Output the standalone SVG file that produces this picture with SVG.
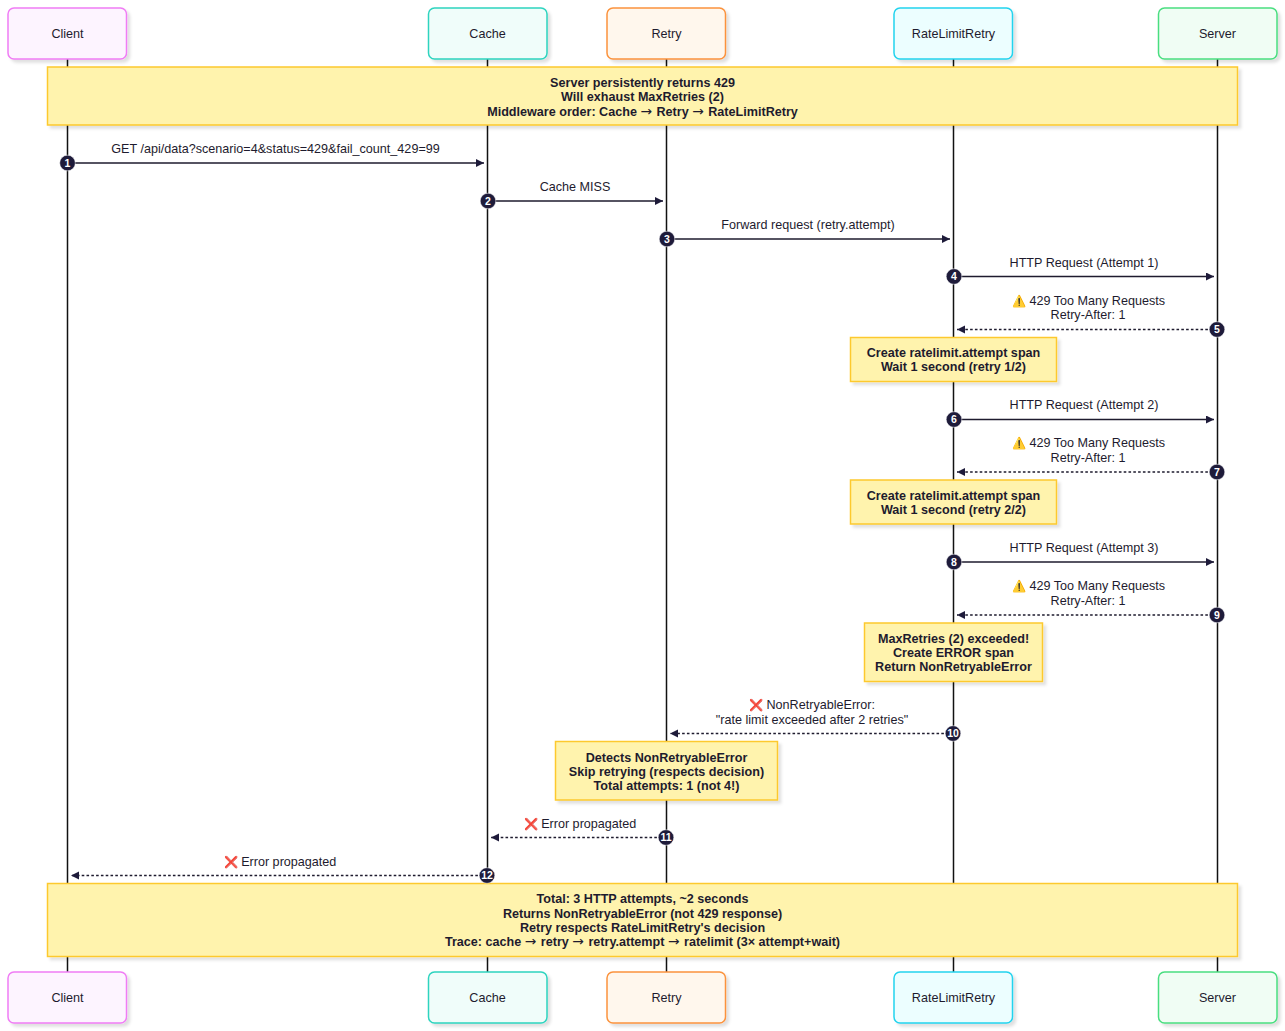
<svg xmlns="http://www.w3.org/2000/svg" width="1285" height="1031" viewBox="0 0 1285 1031">
<style>
text{font-family:"Liberation Sans",Arial,sans-serif;font-size:12.6px;fill:#1e1b2e;text-anchor:middle}
.b{font-weight:700}
.a{stroke-width:1.5;rx:6px}
.life{stroke:#111;stroke-width:1.5}
.msg{stroke:#1e1b2e;stroke-width:1.5;fill:none}
.d{stroke-dasharray:2.6 2.2}
.n{fill:#fff3ad;stroke:#fdc92f;stroke-width:1.5;filter:url(#s)}
.c{fill:#1e1b3a;stroke:#fff;stroke-width:.5}
.cn{font-size:10.5px;font-weight:700;fill:#fff}
.w{font-size:11.5px}
.x{font-size:11.5px}
.ar{font-family:"DejaVu Sans",sans-serif;font-size:13.8px;font-weight:400;letter-spacing:1px}
</style>
<defs>
<filter id="s" x="-5%" y="-10%" width="110%" height="125%"><feDropShadow dx="3" dy="3" stdDeviation="1.5" flood-color="#000" flood-opacity=".12"/></filter>
<marker id="e" markerWidth="9" markerHeight="9" refX="8" refY="4" orient="auto-start-reverse" markerUnits="userSpaceOnUse"><path d="M0 0L8 4L0 8z" fill="#1e1b3a"/></marker>
</defs>
<g id="lifelines">
<line class="life" x1="67.5" y1="59" x2="67.5" y2="972"/>
<line class="life" x1="487.5" y1="59" x2="487.5" y2="972"/>
<line class="life" x1="666.5" y1="59" x2="666.5" y2="972"/>
<line class="life" x1="953.5" y1="59" x2="953.5" y2="972"/>
<line class="life" x1="1217.5" y1="59" x2="1217.5" y2="972"/>
</g>
<g id="actor-client-top"><rect class="a" x="8" y="8" width="118.500" height="51" fill="#fdf4ff" stroke="#f07cf5" filter="url(#s)"/><text x="67.500" y="38">Client</text></g>
<g id="actor-cache-top"><rect class="a" x="428.500" y="8" width="118.500" height="51" fill="#f0fdfa" stroke="#2dd4bf" filter="url(#s)"/><text x="487.500" y="38">Cache</text></g>
<g id="actor-retry-top"><rect class="a" x="607" y="8" width="118.500" height="51" fill="#fff7ed" stroke="#fb923c" filter="url(#s)"/><text x="666.500" y="38">Retry</text></g>
<g id="actor-rlr-top"><rect class="a" x="894" y="8" width="118.500" height="51" fill="#ecfeff" stroke="#22d3ee" filter="url(#s)"/><text x="953.500" y="38">RateLimitRetry</text></g>
<g id="actor-server-top"><rect class="a" x="1158.500" y="8" width="118.500" height="51" fill="#f0fdf4" stroke="#4ade80" filter="url(#s)"/><text x="1217.500" y="38">Server</text></g>
<g id="actor-client-bottom"><rect class="a" x="8" y="972" width="118.500" height="51" fill="#fdf4ff" stroke="#f07cf5" filter="url(#s)"/><text x="67.500" y="1002">Client</text></g>
<g id="actor-cache-bottom"><rect class="a" x="428.500" y="972" width="118.500" height="51" fill="#f0fdfa" stroke="#2dd4bf" filter="url(#s)"/><text x="487.500" y="1002">Cache</text></g>
<g id="actor-retry-bottom"><rect class="a" x="607" y="972" width="118.500" height="51" fill="#fff7ed" stroke="#fb923c" filter="url(#s)"/><text x="666.500" y="1002">Retry</text></g>
<g id="actor-rlr-bottom"><rect class="a" x="894" y="972" width="118.500" height="51" fill="#ecfeff" stroke="#22d3ee" filter="url(#s)"/><text x="953.500" y="1002">RateLimitRetry</text></g>
<g id="actor-server-bottom"><rect class="a" x="1158.500" y="972" width="118.500" height="51" fill="#f0fdf4" stroke="#4ade80" filter="url(#s)"/><text x="1217.500" y="1002">Server</text></g>
<g id="connectors">
<line class="msg" x1="67.500" y1="163" x2="484" y2="163" marker-end="url(#e)"/>
<line class="msg" x1="487.500" y1="201" x2="663" y2="201" marker-end="url(#e)"/>
<line class="msg" x1="666.500" y1="239" x2="950" y2="239" marker-end="url(#e)"/>
<line class="msg" x1="953.500" y1="276.500" x2="1214" y2="276.500" marker-end="url(#e)"/>
<line class="msg d" x1="1217.500" y1="329.500" x2="957" y2="329.500" marker-end="url(#e)"/>
<line class="msg" x1="953.500" y1="419.500" x2="1214" y2="419.500" marker-end="url(#e)"/>
<line class="msg d" x1="1217.500" y1="472" x2="957" y2="472" marker-end="url(#e)"/>
<line class="msg" x1="953.500" y1="562" x2="1214" y2="562" marker-end="url(#e)"/>
<line class="msg d" x1="1217.500" y1="615" x2="957" y2="615" marker-end="url(#e)"/>
<line class="msg d" x1="953.500" y1="733.500" x2="670" y2="733.500" marker-end="url(#e)"/>
<line class="msg d" x1="666.500" y1="837.500" x2="491" y2="837.500" marker-end="url(#e)"/>
<line class="msg d" x1="487.500" y1="875.500" x2="71" y2="875.500" marker-end="url(#e)"/>
</g>
<g id="message-labels">
<text x="275.500" y="153">GET /api/data?scenario=4&amp;status=429&amp;fail_count_429=99</text>
<text x="575" y="191">Cache MISS</text>
<text x="808" y="228.500">Forward request (retry.attempt)</text>
<text x="1084" y="266.500">HTTP Request (Attempt 1)</text>
<text x="1088.500" y="304.500"><tspan class="w">⚠️</tspan> 429 Too Many Requests</text>
<text x="1088" y="319">Retry-After: 1</text>
<text x="1084" y="409">HTTP Request (Attempt 2)</text>
<text x="1088.500" y="447"><tspan class="w">⚠️</tspan> 429 Too Many Requests</text>
<text x="1088" y="462">Retry-After: 1</text>
<text x="1084" y="551.500">HTTP Request (Attempt 3)</text>
<text x="1088.500" y="589.500"><tspan class="w">⚠️</tspan> 429 Too Many Requests</text>
<text x="1088" y="604.500">Retry-After: 1</text>
<text x="812" y="708.500"><tspan class="x">❌</tspan> NonRetryableError:</text>
<text x="812" y="723.500">"rate limit exceeded after 2 retries"</text>
<text x="580" y="827.500"><tspan class="x">❌</tspan> Error propagated</text>
<text x="280" y="865.500"><tspan class="x">❌</tspan> Error propagated</text>
</g>
<g id="note-top"><rect class="n" x="47.500" y="67" width="1190" height="58"/><text class="b" x="642.500" y="87">Server persistently returns 429</text><text class="b" x="642.500" y="101">Will exhaust MaxRetries (2)</text><text class="b" x="642.500" y="115.500">Middleware order: Cache <tspan class="ar">→</tspan> Retry <tspan class="ar">→</tspan> RateLimitRetry</text></g>
<g id="note-wait1"><rect class="n" x="850.500" y="337.500" width="206" height="44"/><text class="b" x="953.500" y="357">Create ratelimit.attempt span</text><text class="b" x="953.500" y="371">Wait 1 second (retry 1/2)</text></g>
<g id="note-wait2"><rect class="n" x="850.500" y="480" width="206" height="44"/><text class="b" x="953.500" y="500">Create ratelimit.attempt span</text><text class="b" x="953.500" y="514">Wait 1 second (retry 2/2)</text></g>
<g id="note-exceeded"><rect class="n" x="864.500" y="623" width="178" height="58.500"/><text class="b" x="953.500" y="642.500">MaxRetries (2) exceeded!</text><text class="b" x="953.500" y="657">Create ERROR span</text><text class="b" x="953.500" y="671">Return NonRetryableError</text></g>
<g id="note-detect"><rect class="n" x="555.500" y="741.500" width="222" height="58.500"/><text class="b" x="666.500" y="762">Detects NonRetryableError</text><text class="b" x="666.500" y="776">Skip retrying (respects decision)</text><text class="b" x="666.500" y="790">Total attempts: 1 (not 4!)</text></g>
<g id="note-bottom"><rect class="n" x="47.500" y="883.500" width="1190" height="73"/><text class="b" x="642.500" y="903">Total: 3 HTTP attempts, ~2 seconds</text><text class="b" x="642.500" y="917.500">Returns NonRetryableError (not 429 response)</text><text class="b" x="642.500" y="932">Retry respects RateLimitRetry's decision</text><text class="b" x="642.500" y="946">Trace: cache <tspan class="ar">→</tspan> retry <tspan class="ar">→</tspan> retry.attempt <tspan class="ar">→</tspan> ratelimit (3× attempt+wait)</text></g>
<g id="sequence-numbers">
<circle class="c" cx="67.500" cy="163" r="7.800"/><text class="cn" x="67.500" y="166.800">1</text>
<circle class="c" cx="488" cy="201" r="7.800"/><text class="cn" x="488" y="204.800">2</text>
<circle class="c" cx="667" cy="239" r="7.800"/><text class="cn" x="667" y="242.800">3</text>
<circle class="c" cx="954" cy="276.500" r="7.800"/><text class="cn" x="954" y="280.300">4</text>
<circle class="c" cx="1217" cy="329.500" r="7.800"/><text class="cn" x="1217" y="333.300">5</text>
<circle class="c" cx="954" cy="419.500" r="7.800"/><text class="cn" x="954" y="423.300">6</text>
<circle class="c" cx="1217" cy="472" r="7.800"/><text class="cn" x="1217" y="475.800">7</text>
<circle class="c" cx="954" cy="562" r="7.800"/><text class="cn" x="954" y="565.800">8</text>
<circle class="c" cx="1217" cy="615" r="7.800"/><text class="cn" x="1217" y="618.800">9</text>
<circle class="c" cx="953" cy="733.500" r="7.800"/><text class="cn" x="953" y="737.300">10</text>
<circle class="c" cx="666" cy="837.500" r="7.800"/><text class="cn" x="666" y="841.300">11</text>
<circle class="c" cx="487" cy="875.500" r="7.800"/><text class="cn" x="487" y="879.300">12</text>
</g>
</svg>
